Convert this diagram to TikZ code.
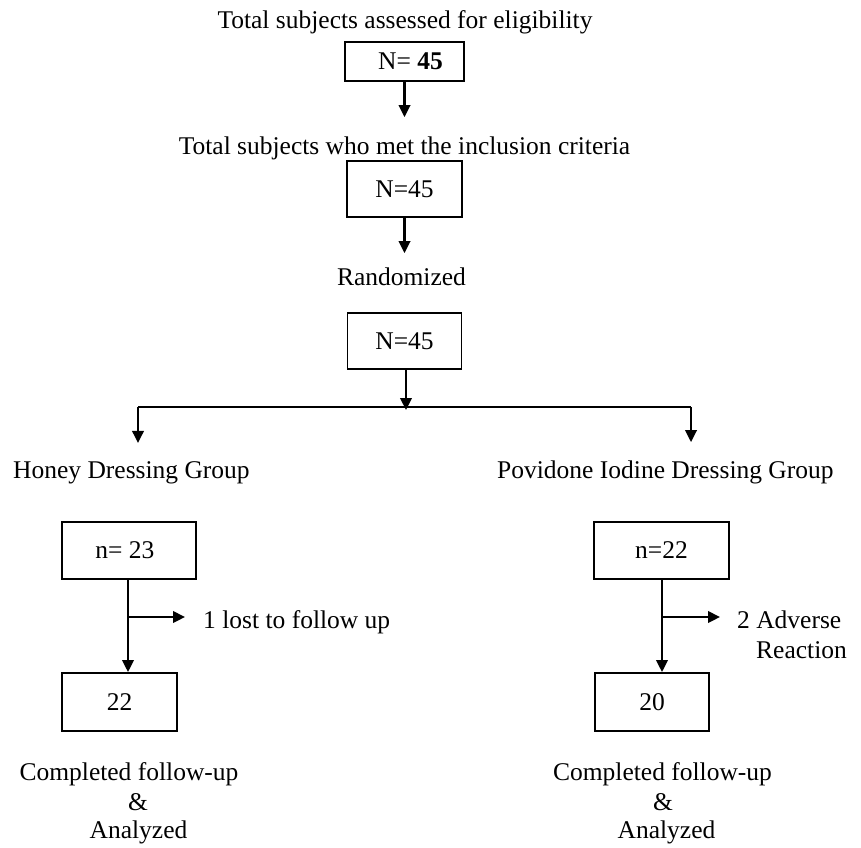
\documentclass[tikz,border=0pt]{standalone}
\usepackage{fontspec}
\setmainfont{Liberation Serif}
\usetikzlibrary{arrows.meta}
\newcommand{\txtfont}{\fontsize{25.5}{30}\selectfont}
\tikzset{
  box/.style={draw, line width=1.9pt, inner sep=0pt, font=\txtfont},
  lbl/.style={inner sep=0pt, font=\txtfont, anchor=base},
  ln/.style={line width=2.2pt},
  arr/.style={line width=2.2pt, -{Triangle[length=12pt,width=11.5pt]}},
}
\begin{document}
\begin{tikzpicture}[x=1pt,y=-1pt]
\useasboundingbox (0,0) rectangle (861,847);
% texts
\node[lbl] (t1) at (405,28) {Total subjects assessed for eligibility};
\node[lbl] (t2) at (404.5,154) {Total subjects who met the inclusion criteria};
\node[lbl] (t3) at (401.5,285) {Randomized};
\node[lbl, anchor=base west] (honey) at (13,478) {Honey Dressing Group};
\node[lbl, anchor=base west] (pov) at (497,478) {Povidone Iodine Dressing Group};
\node[lbl, anchor=base west] (lost) at (203,628) {1 lost to follow up};
\node[lbl, anchor=base west] (adv) at (737,628) {2 Adverse};
\node[lbl, anchor=base west] (reac) at (756,658) {Reaction};
\node[lbl] (cl1) at (129,780) {Completed follow-up};
\node[lbl] (cl2) at (138,810) {\&};
\node[lbl] (cl3) at (138.5,838) {Analyzed};
\node[lbl] (cr1) at (662.5,780) {Completed follow-up};
\node[lbl] (cr2) at (663,810) {\&};
\node[lbl] (cr3) at (666.5,838) {Analyzed};
% boxes
\node[box, minimum width=119pt, minimum height=39pt] (b1) at (404.5,61.5) {\hspace*{12pt}N= \textbf{45}};
\node[box, minimum width=115pt, minimum height=56pt] (b2) at (404.5,189) {N=45};
\node[box, minimum width=114pt, minimum height=56pt] (b3) at (404.5,341) {N=45};
\node[box, minimum width=134pt, minimum height=57pt] (b4) at (129,550.5) {\hspace*{-8pt}n= 23};
\node[box, minimum width=135pt, minimum height=57pt] (b5) at (661.5,550.5) {n=22};
\node[box, minimum width=115pt, minimum height=58pt] (b6) at (119.5,702) {22};
\node[box, minimum width=114pt, minimum height=58pt] (b7) at (652,702) {20};
% connectors
\draw[arr, shorten >=19pt] (b1.south) -- (b1.south |- t2.north);
\draw[arr, shorten >=14pt] (b2.south) -- (b2.south |- t3.north);
\coordinate (split) at (406,407);
\coordinate (hl) at (138,407);
\coordinate (hr) at (691,407);
\draw[arr] (b3.south -| split) -- ([yshift=-3pt]split);
\draw[ln] (hl) -- (hr);
\draw[arr, shorten >=18pt] (hl) -- (hl |- honey.north);
\draw[arr, shorten >=18pt] (hr) -- (hr |- pov.north);
\coordinate (j1) at (128,617);
\coordinate (j2) at (662,617);
\draw[arr] (b4.south -| j1) -- (b6.north -| j1);
\draw[arr] (b5.south -| j2) -- (b7.north -| j2);
\draw[arr, shorten >=18pt] (j1) -- (j1 -| lost.west);
\draw[arr, shorten >=17pt] (j2) -- (j2 -| adv.west);
\end{tikzpicture}
\end{document}
